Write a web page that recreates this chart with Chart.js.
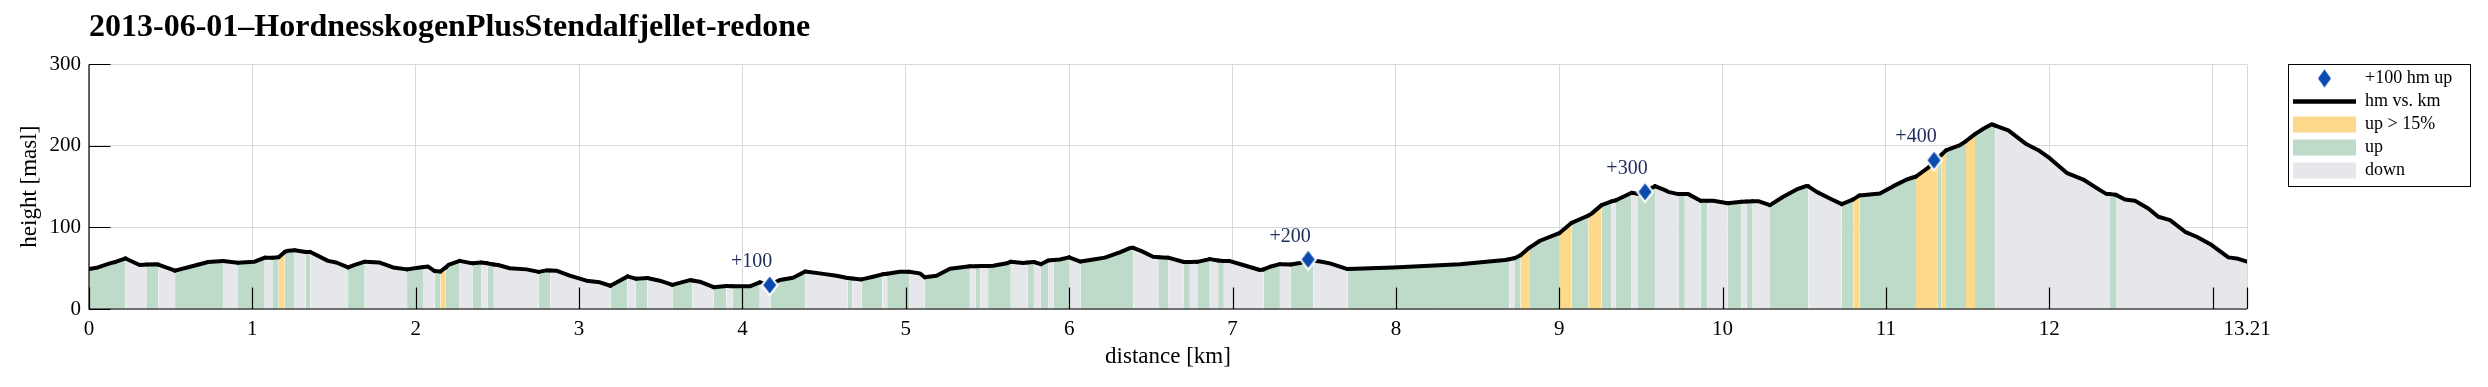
<!DOCTYPE html>
<html>
<head>
<meta charset="utf-8">
<script src="https://cdn.jsdelivr.net/npm/chart.js@4.4.1/dist/chart.umd.min.js"></script>
<style>
  html, body { margin: 0; padding: 0; background: #ffffff; }
  #wrap { position: relative; width: 2488px; height: 387px; }
</style>
</head>
<body>
<div id="wrap"><canvas id="c"></canvas></div>
<script>
// ---------------- data ----------------
const chartTitle = '2013-06-01\u2013HordnesskogenPlusStendalfjellet-redone';

// distance along the track [km]
const distKm = [
  0.000, 0.055, 0.127, 0.167, 0.224, 0.310, 0.355, 0.410, 0.424, 0.450,
  0.527, 0.637, 0.729, 0.820, 0.912, 1.014, 1.076, 1.122, 1.161, 1.198,
  1.218, 1.259, 1.327, 1.355, 1.463, 1.514, 1.586, 1.627, 1.688, 1.780,
  1.861, 1.947, 2.014, 2.049, 2.076, 2.116, 2.151, 2.184, 2.200, 2.269,
  2.347, 2.400, 2.439, 2.478, 2.504, 2.576, 2.678, 2.753, 2.800, 2.824,
  2.861, 2.943, 3.045, 3.127, 3.192, 3.296, 3.347, 3.418, 3.494, 3.571,
  3.678, 3.694, 3.739, 3.824, 3.902, 3.939, 4.045, 4.106, 4.171, 4.229,
  4.310, 4.384, 4.473, 4.576, 4.643, 4.673, 4.729, 4.800, 4.857, 4.886,
  4.963, 5.020, 5.086, 5.116, 5.188, 5.270, 5.392, 5.429, 5.457, 5.504,
  5.535, 5.618, 5.643, 5.718, 5.745, 5.784, 5.827, 5.871, 5.906, 5.943,
  6.000, 6.069, 6.147, 6.218, 6.310, 6.371, 6.392, 6.443, 6.514, 6.550,
  6.606, 6.702, 6.739, 6.784, 6.861, 6.912, 6.947, 6.984, 7.065, 7.167,
  7.190, 7.229, 7.290, 7.357, 7.422, 7.463, 7.494, 7.545, 7.596, 7.704,
  7.984, 8.392, 8.667, 8.694, 8.729, 8.763, 8.800, 8.816, 8.882, 9.000,
  9.076, 9.147, 9.178, 9.198, 9.259, 9.320, 9.347, 9.392, 9.443, 9.478,
  9.525, 9.586, 9.647, 9.667, 9.729, 9.769, 9.790, 9.865, 9.906, 9.943,
  10.031, 10.116, 10.147, 10.184, 10.218, 10.290, 10.371, 10.453, 10.514, 10.525,
  10.576, 10.657, 10.729, 10.790, 10.800, 10.837, 10.963, 11.045, 11.127, 11.184,
  11.259, 11.294, 11.314, 11.341, 11.367, 11.453, 11.490, 11.535, 11.545, 11.596,
  11.647, 11.669, 11.749, 11.861, 11.933, 12.004, 12.106, 12.208, 12.310, 12.351,
  12.371, 12.408, 12.463, 12.524, 12.606, 12.667, 12.739, 12.831, 12.902, 12.994,
  13.096, 13.147, 13.210
];

// height [masl]
const elevM = [
  49, 51, 56, 58, 62, 54, 54.5, 55, 54.5, 52.7,
  47, 52.7, 57.6, 58.8, 56.8, 58, 63, 63, 63.5, 70,
  71.5, 72, 70, 70, 59, 57, 51, 54, 58, 57,
  51, 48.6, 50.6, 51.5, 52, 46.5, 46, 51, 54, 59,
  56, 57, 56, 54.5, 54, 50, 48.6, 45.5, 47.4, 47.2,
  47, 41, 34.7, 32.7, 28.5, 40, 37.2, 38, 34.7, 29.6,
  35.5, 35, 33.5, 26.8, 28.2, 28, 27.8, 32.7, 30, 35.5,
  38.4, 46, 43.7, 40.8, 38, 37.5, 36.3, 39.6, 42.5, 43.2,
  45.7, 45.7, 43.7, 39, 40.8, 49.4, 52.3, 52.5, 52.6, 52.8,
  53, 56, 58, 56.3, 57, 57.6, 55, 59.5, 60.2, 60.8,
  63.3, 58.2, 60.8, 63, 69.4, 74.7, 75, 71, 64, 63.5,
  63, 57.6, 57.6, 57.8, 61.2, 59.4, 59, 58.8, 54, 47.8,
  48.5, 51.8, 55, 54.7, 56.8, 59, 59.5, 58, 56, 49,
  51, 55, 60, 61, 62.5, 66, 72.3, 75, 83.7, 93,
  105.7, 111.9, 114.5, 117, 127.4, 132, 133.3, 137.6, 142.5, 141.5,
  144, 150.7, 145.8, 143.7, 140.9, 140.9, 140.9, 132.7, 132.7, 132.7,
  129.6, 131.5, 131.8, 132.2, 132.3, 127.4, 137.6, 146.6, 151, 150.5,
  143.7, 135.6, 128.6, 133.5, 134.5, 139.3, 141.7, 150.7, 158.8, 162.5,
  173.5, 181, 185, 189.5, 194.5, 200.9, 206, 213, 214.5, 221,
  226.6, 225, 219, 202, 194.8, 184.6, 167, 158.8, 145.8, 140.9,
  140.9, 140, 134.3, 132.7, 123.3, 113.1, 109, 94.7, 88.6, 78.4,
  63.3, 62, 58
];

// kind of each stretch between consecutive points: u = up, s = up > 15%, d = down
const segKind = [
  'u','u','u','u','d','d','u','u','d','d',
  'u','u','u','d','u','u','d','u','s','u',
  'u','d','u','d','d','d','u','u','d','d',
  'd','u','u','d','d','u','s','u','u','d',
  'u','d','u','d','d','d','d','u','u','d',
  'd','d','d','d','u','d','u','d','d','u',
  'u','d','d','u','d','u','u','d','u','u',
  'u','d','d','d','u','d','u','u','d','u',
  'u','d','d','u','u','u','d','u','d','u',
  'u','u','d','d','u','d','u','d','u','u',
  'd','u','u','u','u','u','d','d','d','u',
  'd','u','d','u','d','u','d','d','d','d',
  'u','u','d','u','u','u','d','d','d','u',
  'u','u','u','d','u','s','s','u','u','s',
  'u','u','s','s','u','d','u','u','d','u',
  'u','d','d','d','u','d','d','u','d','d',
  'u','d','u','d','d','u','u','u','u','d',
  'd','d','u','u','s','u','u','u','u','s',
  's','s','u','s','u','u','s','s','u','u',
  'u','d','d','d','d','d','d','d','d','d',
  'u','d','d','d','d','d','d','d','d','d',
  'd','d'
];

// +100 hm climbed markers
const markerKm = [4.167, 7.463, 9.525, 11.294];
const markerElev = [29.4, 60.8, 143.7, 182.5];
const markerText = ['+100', '+200', '+300', '+400'];

// axis ticks
const xTickValues = [0, 1, 2, 3, 4, 5, 6, 7, 8, 9, 10, 11, 12, 13, 13.21];
const xTickLabels = ['0', '1', '2', '3', '4', '5', '6', '7', '8', '9', '10', '11', '12', '', '13.21'];
const yTickValues = [0, 100, 200, 300];

// legend entries
const legendTexts = ['+100 hm up', 'hm vs. km', 'up > 15%', 'up', 'down'];

// ---------------- styling ----------------
const FONT = "'Liberation Serif', 'Times New Roman', serif";
const COL_UP = '#bedbca';
const COL_STEEP = '#fdd98b';
const COL_DOWN = '#e6e7eb';
const COL_MARK = '#0b4aae';
const kindColor = { u: COL_UP, s: COL_STEEP, d: COL_DOWN };

function makeDiamond(hw, hh, outline) {
  const c = document.createElement('canvas');
  const ow = hw + outline * 1.3, oh = hh + outline * 1.6;
  c.width = Math.ceil(2 * ow) + 2;
  c.height = Math.ceil(2 * oh) + 2;
  const g = c.getContext('2d');
  const cx = c.width / 2, cy = c.height / 2;
  const path = (w, h) => {
    g.beginPath();
    g.moveTo(cx, cy - h); g.lineTo(cx + w, cy); g.lineTo(cx, cy + h); g.lineTo(cx - w, cy);
    g.closePath();
  };
  if (outline > 0) { g.fillStyle = '#ffffff'; path(ow, oh); g.fill(); }
  g.fillStyle = COL_MARK; path(hw, hh); g.fill();
  return c;
}
const diamondMark = makeDiamond(6.5, 8.5, 2);
const diamondLegend = makeDiamond(6.5, 9, 0);

const profilePoints = distKm.map((d, i) => ({ x: d, y: elevM[i] }));
const markerPoints = markerKm.map((d, i) => ({ x: d, y: markerElev[i] }));

const LEGEND_W = 183;

const layoutPlugin = {
  id: 'layoutPlugin',
  beforeLayout(chart) {
    const lg = chart.legend;
    if (lg && !lg.__fixedWidth) {
      const orig = lg.fit;
      lg.fit = function () { orig.call(this); this.width = LEGEND_W; };
      lg.__fixedWidth = true;
    }
  },
  afterDatasetsDraw(chart) {
    const { ctx, chartArea: { left, right, top, bottom }, scales: { x, y } } = chart;
    ctx.save();
    // marker labels
    ctx.font = "20px " + FONT;
    ctx.fillStyle = '#1f2b5c';
    ctx.textAlign = 'center';
    ctx.textBaseline = 'middle';
    markerKm.forEach((d, i) => {
      const px = x.getPixelForValue(d), py = y.getPixelForValue(markerElev[i]);
      ctx.fillText(markerText[i], px - 18, py - 23);
    });
    // axis lines and inward ticks
    ctx.strokeStyle = '#000000';
    ctx.lineWidth = 1.2;
    ctx.beginPath();
    ctx.moveTo(left, top); ctx.lineTo(left, bottom); ctx.lineTo(right, bottom);
    x.ticks.forEach(t => {
      const px = Math.round(x.getPixelForValue(t.value)) + 0.5;
      ctx.moveTo(px, bottom); ctx.lineTo(px, bottom - 21.5);
    });
    y.ticks.forEach(t => {
      const py = Math.round(y.getPixelForValue(t.value)) + 0.5;
      ctx.moveTo(left, py); ctx.lineTo(left + 21.5, py);
    });
    ctx.stroke();
    ctx.restore();
  },
  afterDraw(chart) {
    const lg = chart.legend;
    if (!lg) return;
    const ctx = chart.ctx;
    ctx.save();
    ctx.strokeStyle = '#000000';
    ctx.lineWidth = 1;
    ctx.strokeRect(Math.round(lg.left) + 0.5, Math.round(lg.top) + 0.5, LEGEND_W - 1, 122);
    ctx.restore();
  }
};

Chart.defaults.font.family = FONT;
Chart.defaults.color = '#000000';

new Chart(document.getElementById('c'), {
  type: 'line',
  data: {
    datasets: [
      {
        label: 'markers',
        data: markerPoints,
        showLine: false,
        pointStyle: diamondMark,
        pointRadius: 9,
        order: 0
      },
      {
        label: 'hm vs. km',
        data: profilePoints,
        borderColor: '#000000',
        borderWidth: 4,
        borderJoinStyle: 'round',
        borderCapStyle: 'round',
        pointRadius: 0,
        tension: 0,
        fill: 'origin',
        backgroundColor: COL_DOWN,
        segment: {
          backgroundColor: ctx => kindColor[segKind[ctx.p0DataIndex]] || COL_DOWN
        },
        order: 1
      }
    ]
  },
  options: {
    responsive: true,
    maintainAspectRatio: false,
    animation: false,
    devicePixelRatio: 1,
    layout: { padding: { left: 0, right: 17, top: 0, bottom: 0 } },
    plugins: {
      title: {
        display: true,
        text: chartTitle,
        align: 'start',
        fullSize: false,
        color: '#000000',
        font: { family: FONT, size: 32, weight: 'bold' },
        padding: { top: 9, bottom: 17 }
      },
      legend: {
        display: true,
        position: 'right',
        align: 'start',
        fullSize: false,
        onClick: null,
        labels: {
          usePointStyle: true,
          pointStyleWidth: 63,
          boxHeight: 16,
          padding: 5,
          color: '#000000',
          font: { family: FONT, size: 18 },
          generateLabels: () => [
            { text: legendTexts[0], pointStyle: diamondLegend, fillStyle: COL_MARK, strokeStyle: COL_MARK, lineWidth: 0, hidden: false },
            { text: legendTexts[1], pointStyle: 'line', fillStyle: '#000000', strokeStyle: '#000000', lineWidth: 4.5, hidden: false },
            { text: legendTexts[2], pointStyle: 'rect', fillStyle: COL_STEEP, strokeStyle: COL_STEEP, lineWidth: 0, hidden: false },
            { text: legendTexts[3], pointStyle: 'rect', fillStyle: COL_UP, strokeStyle: COL_UP, lineWidth: 0, hidden: false },
            { text: legendTexts[4], pointStyle: 'rect', fillStyle: COL_DOWN, strokeStyle: COL_DOWN, lineWidth: 0, hidden: false }
          ]
        }
      },
      tooltip: { enabled: false }
    },
    scales: {
      x: {
        type: 'linear',
        position: 'bottom',
        min: 0,
        max: 13.21,
        afterBuildTicks: s => { s.ticks = xTickValues.map(v => ({ value: v })); },
        afterFit: s => { s.height = 78; },
        ticks: {
          autoSkip: false,
          maxRotation: 0,
          padding: 8,
          font: { family: FONT, size: 21 },
          color: '#000000',
          callback: (v, i) => xTickLabels[i]
        },
        grid: { color: '#d9d9d9', lineWidth: 1, drawTicks: false },
        border: { display: false },
        title: {
          display: true,
          text: 'distance [km]',
          font: { family: FONT, size: 23 },
          color: '#000000',
          padding: { top: 0, bottom: 16 }
        }
      },
      y: {
        type: 'linear',
        position: 'left',
        min: 0,
        max: 300,
        afterBuildTicks: s => { s.ticks = yTickValues.map(v => ({ value: v })); },
        afterFit: s => { s.width = 89; },
        ticks: {
          padding: 8,
          font: { family: FONT, size: 21 },
          color: '#000000'
        },
        grid: { color: '#d9d9d9', lineWidth: 1, drawTicks: false },
        border: { display: false },
        title: {
          display: true,
          text: 'height [masl]',
          font: { family: FONT, size: 23 },
          color: '#000000',
          padding: { top: 16, bottom: 0 }
        }
      },
      yPad: {
        type: 'linear',
        position: 'right',
        display: true,
        grid: { display: false, drawTicks: false },
        border: { display: false },
        ticks: { display: false },
        afterFit: s => { s.width = 41; }
      }
    }
  },
  plugins: [layoutPlugin]
});
</script>
</body>
</html>
